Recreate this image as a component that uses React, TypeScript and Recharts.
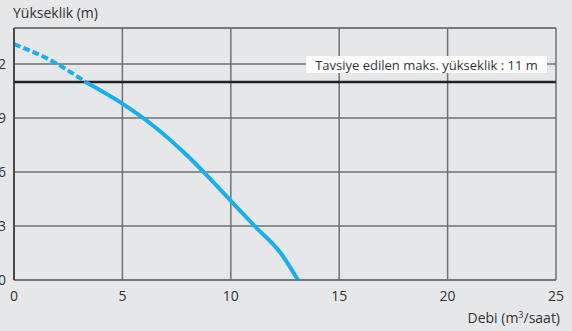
import { LineChart, Line, XAxis, YAxis, CartesianGrid, ReferenceLine } from "recharts";

// Debi (m³/saat) - Yükseklik (m)
const dashedFlow = [0, 1.7, 3.3];
const dashedHead = [13.1, 12.2, 11.0];
const solidFlow = [3.3, 5, 6.5, 8, 10, 11.1, 12.3, 13.1];
const solidHead = [11.0, 9.8, 8.5, 6.9, 4.4, 3.0, 1.5, 0];

const xTicks = [0, 5, 10, 15, 20, 25];
const yTicks = [0, 3, 6, 9, 12];
const maxHeight = 11;
const maxLabel = "Tavsiye edilen maks. yükseklik : 11 m";

const dashedData = dashedFlow.map((q, i) => ({ q, h: dashedHead[i] }));
const solidData = solidFlow.map((q, i) => ({ q, h: solidHead[i] }));

const FONT = "'Open Sans', sans-serif";
const TEXT = "#333333";

function MaxLabel(props: any) {
  const { viewBox } = props;
  const right = viewBox.x + viewBox.width - 9;
  const w = 241;
  return (
    <g>
      <rect x={right - w} y={viewBox.y - 26} width={w} height={17} fill="#ffffff" />
      <text
        x={right - w / 2}
        y={viewBox.y - 17.5}
        textAnchor="middle"
        dominantBaseline="central"
        fontFamily={FONT}
        fontSize={13}
        fill={TEXT}
      >
        {maxLabel}
      </text>
    </g>
  );
}

export default function App() {
  return (
    <div
      style={{
        position: "absolute",
        left: 0,
        top: 0,
        width: 572,
        height: 331,
        background: "#e6e7e8",
        overflow: "hidden",
        fontFamily: FONT,
      }}
    >
      <div style={{ position: "absolute", left: 13, top: 3, fontSize: 14, color: TEXT, lineHeight: "20px" }}>
        Yükseklik (m)
      </div>
      <div style={{ position: "absolute", right: 12, top: 305, fontSize: 14, color: TEXT, lineHeight: "20px" }}>
        Debi (m<sup style={{ fontSize: 9, verticalAlign: "5px" }}>3</sup>/saat)
      </div>
      <LineChart width={572} height={331} margin={{ top: 28, right: 16, left: 0, bottom: 0 }}>
        <CartesianGrid stroke="#707070" strokeWidth={1.5} />
        <XAxis
          type="number"
          dataKey="q"
          domain={[0, 25]}
          ticks={xTicks}
          height={51}
          tickSize={0}
          tickMargin={11}
          axisLine={{ stroke: "#707070", strokeWidth: 1.5 }}
          tick={{ fill: TEXT, fontSize: 14, fontFamily: FONT }}
          interval={0}
        />
        <YAxis
          type="number"
          dataKey="h"
          domain={[0, 14]}
          ticks={yTicks}
          width={14}
          tickSize={0}
          tickMargin={8}
          axisLine={{ stroke: "#333333", strokeWidth: 1.5 }}
          tick={{ fill: TEXT, fontSize: 14, fontFamily: FONT }}
          interval={0}
        />
        <ReferenceLine y={14} stroke="#707070" strokeWidth={1.5} />
        <ReferenceLine y={maxHeight} stroke="#222222" strokeWidth={2.5} label={<MaxLabel />} />
        <Line
          data={dashedData}
          dataKey="h"
          type="monotone"
          stroke="#1aaeea"
          strokeWidth={4}
          strokeDasharray="7 3"
          dot={false}
          isAnimationActive={false}
        />
        <Line
          data={solidData}
          dataKey="h"
          type="monotone"
          stroke="#1aaeea"
          strokeWidth={4}
          dot={false}
          isAnimationActive={false}
        />
      </LineChart>
    </div>
  );
}
